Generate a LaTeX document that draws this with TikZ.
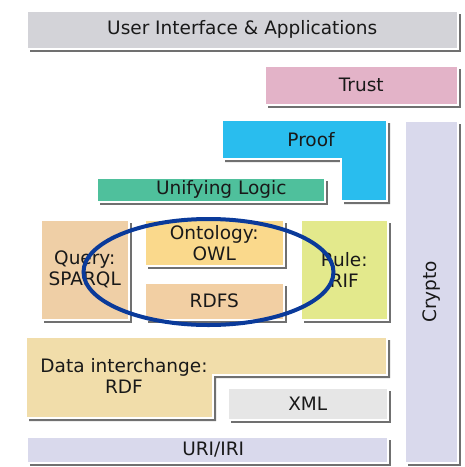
\documentclass[tikz,border=0pt]{standalone}
\usepackage{fontspec}
\setmainfont{DejaVu Sans}
\usetikzlibrary{shadows,shapes.geometric}

\definecolor{uicol}{HTML}{D3D3D8}
\definecolor{trustcol}{HTML}{E3B3C8}
\definecolor{proofcol}{HTML}{29BDEE}
\definecolor{cryptocol}{HTML}{D9D9EC}
\definecolor{logiccol}{HTML}{4FC09C}
\definecolor{querycol}{HTML}{EFCFA6}
\definecolor{owlcol}{HTML}{FAD98C}
\definecolor{rdfscol}{HTML}{F2CFA3}
\definecolor{rulecol}{HTML}{E3E98C}
\definecolor{rdfcol}{HTML}{F1DDAA}
\definecolor{xmlcol}{HTML}{E6E6E6}
\definecolor{uricol}{HTML}{D9D9EC}
\definecolor{ringcol}{HTML}{0A3A9A}

\tikzset{
  layershadow/.style={drop shadow={shadow xshift=3pt, shadow yshift=-3pt, fill=black!75, opacity=0.75}},
  layer/.style={layershadow, draw=white, line width=1.5pt, anchor=north west, inner sep=0pt,
    align=center, text=black!90, font=\fontsize{18.5}{21}\selectfont},
  layertext/.style={align=center, text=black!90, font=\fontsize{18.5}{21}\selectfont},
}

\begin{document}
\begin{tikzpicture}[x=1pt,y=-1pt]
\useasboundingbox (0,0) rectangle (465,467);

% top of the stack
\node[layer, fill=uicol, minimum width=431, minimum height=38] (ui) at (26,10) {User Interface \& Applications};
\node[layer, fill=trustcol, minimum width=193, minimum height=39] (trust) at (264,65) {Trust};

% proof, an L shape
\path[layershadow, draw=white, line width=1.5pt, fill=proofcol]
  (222,120) -- (387,120) -- (387,201) -- (341,201) -- (341,159) -- (222,159) -- cycle;
\node[layertext] (proof) at (311,139.5) {Proof};

\node[layer, fill=cryptocol, minimum width=53, minimum height=342] (crypto) at (404,120) {\rotatebox{90}{Crypto}};
\node[layer, fill=logiccol, minimum width=228, minimum height=24] (logic) at (96,177) {\hspace*{21pt}Unifying Logic};

% middle layers
\node[layer, fill=querycol, minimum width=88, minimum height=100] (query) at (40,219) {Query:\\SPARQL};
\node[layer, fill=owlcol, minimum width=139, minimum height=46] (owl) at (144,219) {Ontology:\\OWL};
\node[layer, fill=rdfscol, minimum width=139, minimum height=37] (rdfs) at (144,282) {RDFS};
\node[layer, fill=rulecol, minimum width=87, minimum height=100] (rule) at (300,219) {Rule:\\RIF};

% data interchange, an L shape
\path[layershadow, draw=white, line width=1.5pt, fill=rdfcol]
  (26,337) -- (387,337) -- (387,375) -- (213,375) -- (213,418) -- (26,418) -- cycle;
\node[layertext] (rdf) at (124,376) {Data interchange:\\RDF};

\node[layer, fill=xmlcol, minimum width=160, minimum height=32] (xml) at (227,387) {XML};
\node[layer, fill=uricol, minimum width=361, minimum height=26] (uri) at (26,436) {\hspace*{12pt}URI/IRI};

% ring round ontology and rdfs
\node[ellipse, draw=ringcol, line width=4pt, minimum width=250, minimum height=106] (ring) at (208.5,272) {};
\end{tikzpicture}
\end{document}
